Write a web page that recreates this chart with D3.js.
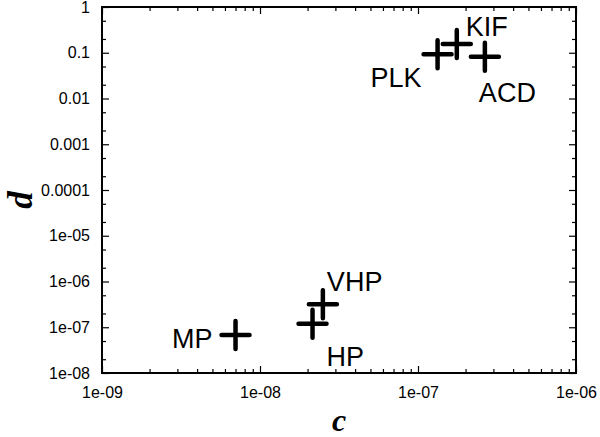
<!DOCTYPE html>
<html>
<head>
<meta charset="utf-8">
<script src="https://cdn.jsdelivr.net/npm/d3@7"></script>
<style>
  html, body { margin: 0; padding: 0; background: #fff; }
  svg { display: block; }
  .tick text { font-family: "Liberation Sans", Arial, sans-serif; font-size: 16px; fill: #000; }
</style>
</head>
<body>
<svg id="chart" width="600" height="437"></svg>
<script>
// Data
var names = ['MP', 'HP', 'VHP', 'PLK', 'KIF', 'ACD'];
var cValues = [7.0e-9, 2.15e-8, 2.5e-8, 1.33e-7, 1.76e-7, 2.65e-7];
var dValues = [6.8e-8, 1.2e-7, 3.2e-7, 0.093, 0.155, 0.082];

var xTickValues = [1e-9, 1e-8, 1e-7, 1e-6];
var xTickLabels = ['1e-09', '1e-08', '1e-07', '1e-06'];
var yTickValues = [1, 0.1, 0.01, 0.001, 0.0001, 1e-5, 1e-6, 1e-7, 1e-8];
var yTickLabels = ['1', '0.1', '0.01', '0.001', '0.0001', '1e-05', '1e-06', '1e-07', '1e-08'];

// label placement relative to the cross (dx, dy, anchor)
var labelPlace = {
    MP:  [-23, 13, 'end'],
    HP:  [14, 42, 'start'],
    VHP: [4, -13, 'start'],
    PLK: [-16, 33, 'end'],
    KIF: [9, -8, 'start'],
    ACD: [-6, 45, 'start']
};

var LEFT = 102, RIGHT = 576, TOP = 7, BOTTOM = 373;
var MAJOR = 7, MINOR = 4;

var svg = d3.select('#chart');

var x = d3.scaleLog().domain([1e-9, 1e-6]).range([LEFT, RIGHT]);
var y = d3.scaleLog().domain([1e-8, 1]).range([BOTTOM, TOP]);

// minor tick values
var xMinor = [], yMinor = [];
for (var e = -9; e < -6; e++) {
    for (var m = 2; m <= 9; m++) xMinor.push(m * Math.pow(10, e));
}
for (var e2 = -8; e2 < 0; e2++) {
    [2, 5].forEach(function (m) { yMinor.push(m * Math.pow(10, e2)); });
}

function styleAxis(g) {
    g.select('.domain').remove();
    g.selectAll('.tick line')
        .style('stroke', '#000')
        .style('stroke-width', 1.2);
}

// bottom axis with labels
svg.append('g')
    .attr('transform', 'translate(0,' + BOTTOM + ')')
    .call(d3.axisBottom(x).tickValues(xTickValues)
        .tickSizeInner(-MAJOR).tickSizeOuter(0).tickPadding(14)
        .tickFormat(function (d, i) { return xTickLabels[i]; }))
    .call(styleAxis);
svg.append('g')
    .attr('transform', 'translate(0,' + BOTTOM + ')')
    .call(d3.axisBottom(x).tickValues(xMinor).tickSizeInner(-MINOR).tickSizeOuter(0).tickFormat(''))
    .call(styleAxis);

// top mirror axis
svg.append('g')
    .attr('transform', 'translate(0,' + TOP + ')')
    .call(d3.axisTop(x).tickValues(xTickValues).tickSizeInner(-MAJOR).tickSizeOuter(0).tickFormat(''))
    .call(styleAxis);
svg.append('g')
    .attr('transform', 'translate(0,' + TOP + ')')
    .call(d3.axisTop(x).tickValues(xMinor).tickSizeInner(-MINOR).tickSizeOuter(0).tickFormat(''))
    .call(styleAxis);

// left axis with labels
svg.append('g')
    .attr('transform', 'translate(' + LEFT + ',0)')
    .call(d3.axisLeft(y).tickValues(yTickValues)
        .tickSizeInner(-MAJOR).tickSizeOuter(0).tickPadding(12)
        .tickFormat(function (d, i) { return yTickLabels[i]; }))
    .call(styleAxis);
svg.append('g')
    .attr('transform', 'translate(' + LEFT + ',0)')
    .call(d3.axisLeft(y).tickValues(yMinor).tickSizeInner(-MINOR).tickSizeOuter(0).tickFormat(''))
    .call(styleAxis);

// right mirror axis
svg.append('g')
    .attr('transform', 'translate(' + RIGHT + ',0)')
    .call(d3.axisRight(y).tickValues(yTickValues).tickSizeInner(-MAJOR).tickSizeOuter(0).tickFormat(''))
    .call(styleAxis);
svg.append('g')
    .attr('transform', 'translate(' + RIGHT + ',0)')
    .call(d3.axisRight(y).tickValues(yMinor).tickSizeInner(-MINOR).tickSizeOuter(0).tickFormat(''))
    .call(styleAxis);

// frame
svg.append('rect')
    .attr('x', LEFT)
    .attr('y', TOP)
    .attr('width', RIGHT - LEFT)
    .attr('height', BOTTOM - TOP)
    .style('fill', 'none')
    .style('stroke', '#000')
    .style('stroke-width', 2);

// points as crosses
var pts = names.map(function (n, i) { return { name: n, c: cValues[i], d: dValues[i] }; });
var ARM = 14;

var gPts = svg.append('g').selectAll('g')
    .data(pts)
    .enter()
    .append('g')
    .attr('transform', function (p) { return 'translate(' + x(p.c) + ',' + y(p.d) + ')'; });

gPts.append('path')
    .attr('d', 'M' + (-ARM) + ',0H' + ARM + 'M0,' + (-ARM) + 'V' + ARM)
    .style('stroke', '#000')
    .style('stroke-width', 4.5)
    .style('stroke-linecap', 'round')
    .style('fill', 'none');

gPts.append('text')
    .attr('x', function (p) { return labelPlace[p.name][0]; })
    .attr('y', function (p) { return labelPlace[p.name][1]; })
    .attr('text-anchor', function (p) { return labelPlace[p.name][2]; })
    .style('font-family', '"Liberation Sans", Arial, sans-serif')
    .style('font-size', '27px')
    .style('fill', '#000')
    .text(function (p) { return p.name; });

// axis titles
svg.append('text')
    .attr('x', (LEFT + RIGHT) / 2)
    .attr('y', 431)
    .attr('text-anchor', 'middle')
    .style('font-family', '"Liberation Serif", "Times New Roman", serif')
    .style('font-weight', 'bold')
    .style('font-style', 'italic')
    .style('font-size', '32px')
    .text('c');

svg.append('text')
    .attr('transform', 'translate(32,200) rotate(-90)')
    .attr('text-anchor', 'middle')
    .style('font-family', '"Liberation Serif", "Times New Roman", serif')
    .style('font-weight', 'bold')
    .style('font-style', 'italic')
    .style('font-size', '35px')
    .text('d');
</script>
</body>
</html>
